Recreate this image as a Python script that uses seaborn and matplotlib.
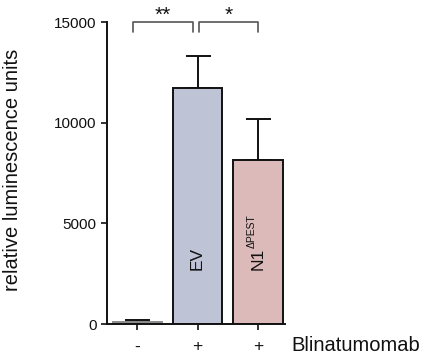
import matplotlib
matplotlib.use("Agg")
import matplotlib.pyplot as plt
import seaborn as sns
import pandas as pd

# Data: mean luminescence and SD per condition
conditions = ["ctrl", "EV", "N1dPEST"]
means = [120, 11700, 8170]
sds = [80, 1610, 1990]
tick_labels = ["-", "+", "+"]
bar_texts = ["", "EV", "N1"]
bar_superscripts = ["", "", "\u0394PEST"]
colors = ["#8c8c8c", "#bfc3d6", "#dcbab9"]
edge_colors = ["#8c8c8c", "#111111", "#111111"]
significance = [("**", 0, 1), ("*", 1, 2)]

sns.set_style("ticks")
plt.rcParams["font.family"] = ["Liberation Sans", "DejaVu Sans"]

df = pd.DataFrame({"condition": conditions, "lum": means})

fig = plt.figure(figsize=(4.3, 3.55), dpi=100)
ax = fig.add_axes([0.249, 0.087, 0.414, 0.851])

sns.barplot(data=df, x="condition", y="lum", hue="condition",
            palette=colors, legend=False, errorbar=None, width=0.82,
            saturation=1, ax=ax)

for patch, ec in zip(ax.patches, edge_colors):
    patch.set_edgecolor(ec)
    patch.set_linewidth(1.4)
    patch.set_zorder(2)

xs = [p.get_x() + p.get_width() / 2 for p in ax.patches]
ax.errorbar(xs, means, yerr=[[0] * len(sds), sds], fmt="none",
            ecolor="#111111", elinewidth=1.4, capsize=9, capthick=1.4,
            zorder=1)

# rotated labels inside the bars, with a small superscript where needed
for x, txt, sup in zip(xs, bar_texts, bar_superscripts):
    if txt:
        ax.text(x, 2700, txt, rotation=90, ha="center", va="bottom",
                fontsize=12.5, color="#111111")
    if sup:
        ax.annotate(sup, xy=(x, 2700), xytext=(-4.5, 15.5),
                    textcoords="offset points", rotation=90,
                    ha="center", va="bottom", fontsize=7.5,
                    color="#111111")

ax.set_ylim(0, 15000)
ax.set_xlim(-0.5, 2.45)
ax.set_yticks([0, 5000, 10000, 15000])
ax.set_xticks(range(len(tick_labels)))
ax.set_xticklabels(tick_labels)
ax.set_xlabel("")
ax.set_ylabel("")
ax.tick_params(axis="both", labelsize=11, length=4, width=1.2,
               color="#111111", labelcolor="#111111")
ax.tick_params(axis="x", labelsize=12.5, pad=7)
for side in ["left", "bottom"]:
    ax.spines[side].set_linewidth(1.4)
    ax.spines[side].set_color("#111111")
sns.despine(ax=ax)

fig.text(0.03, 0.522, "relative luminescence units", rotation=90,
         ha="center", va="center", fontsize=14.5, color="#111111")
fig.text(0.677, 0.012, "Blinatumomab", ha="left", va="baseline",
         fontsize=14.5, color="#111111")

# significance brackets
for label, a, b in significance:
    x0 = a - 0.07 if a == 0 else a + 0.03
    x1 = b - 0.07 if b == 1 else b
    y, h = 15000, 480
    ax.plot([x0, x0, x1, x1], [y - h, y, y, y - h], color="#555555",
            lw=1.2, clip_on=False)
    ax.text((x0 + x1) / 2, y - 150, label, ha="center", va="bottom",
            fontsize=15, color="#111111")

fig.savefig("out.png", dpi=100)
